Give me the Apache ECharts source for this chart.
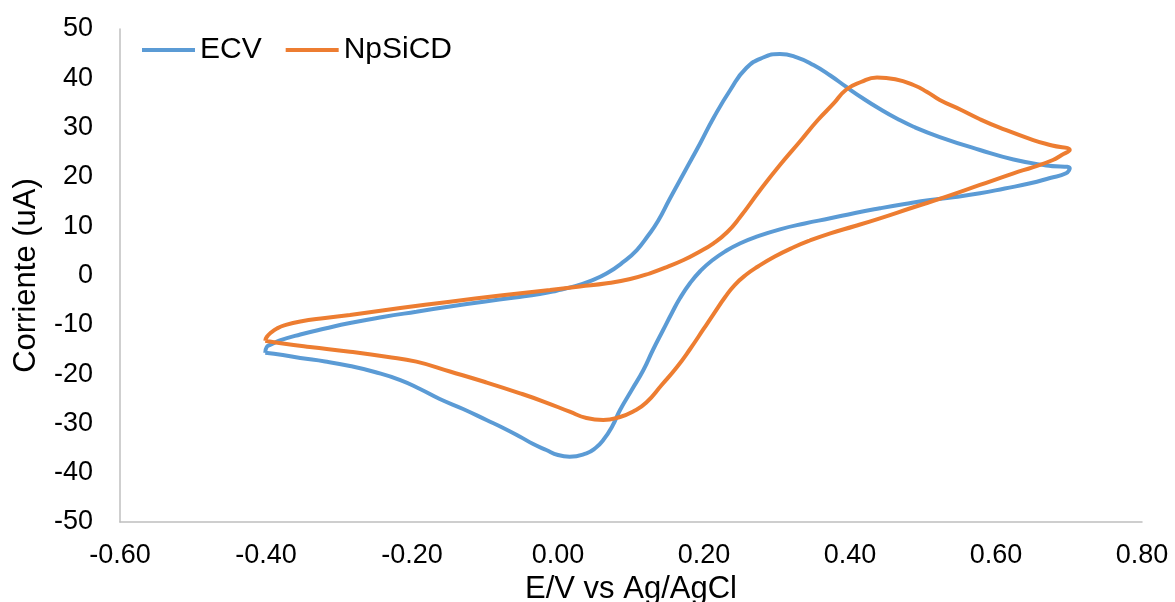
<!DOCTYPE html>
<html>
<head>
<meta charset="utf-8">
<script src="https://cdn.jsdelivr.net/npm/echarts@6/dist/echarts.min.js"></script>
<style>
html,body{margin:0;padding:0;background:#fff;}
#chart{width:1175px;height:602px;}
</style>
</head>
<body>
<div id="chart"></div>
<script>
// Axis ticks
const xTicks = [-0.6, -0.4, -0.2, 0.0, 0.2, 0.4, 0.6, 0.8];
const yTicks = [-50, -40, -30, -20, -10, 0, 10, 20, 30, 40, 50];
const seriesNames = ['ECV', 'NpSiCD'];

// ECV: anodic sweep (-0.4 -> 0.7) then cathodic sweep (0.7 -> -0.4)
const ecvPotential = [
  -0.401, -0.399, -0.393, -0.381, -0.353, -0.319, -0.285, -0.240, -0.194, -0.148,
  -0.102, -0.059, -0.025, -0.002, 0.021, 0.044, 0.067, 0.090, 0.108, 0.123,
  0.137, 0.153, 0.174, 0.195, 0.213, 0.236, 0.258, 0.281, 0.304, 0.327,
  0.350, 0.373, 0.395, 0.418, 0.441, 0.464, 0.487, 0.523, 0.578, 0.624,
  0.669, 0.701,
  0.696, 0.674, 0.647, 0.612, 0.578, 0.544, 0.510, 0.475, 0.441, 0.407,
  0.373, 0.338, 0.304, 0.272, 0.249, 0.231, 0.211, 0.195, 0.181, 0.167,
  0.156, 0.144, 0.130, 0.117, 0.101, 0.085, 0.074, 0.062, 0.051, 0.039,
  0.016, 0.000, -0.016, -0.034, -0.052, -0.075, -0.098, -0.130, -0.162, -0.189,
  -0.216, -0.251, -0.285, -0.319, -0.353, -0.377, -0.401
];
const ecvCurrent = [
  -15.66, -14.50, -14.0, -13.18, -11.97, -10.75, -9.63, -8.42, -7.34, -6.29,
  -5.31, -4.46, -3.75, -3.08, -2.27, -1.12, 0.45, 2.80, 5.17, 8.01,
  11.05, 15.52, 21.20, 26.88, 31.95, 37.63, 42.09, 44.22, 44.93, 44.26,
  42.70, 40.57, 38.24, 35.90, 33.77, 31.85, 30.18, 28.09, 25.46, 23.53,
  22.31, 21.74,
  20.73, 19.78, 18.70, 17.65, 16.67, 15.92, 15.31, 14.50, 13.63, 12.68,
  11.60, 10.55, 9.37, 7.87, 6.49, 5.07, 3.04, 0.91, -1.52, -4.62,
  -7.6, -11.05, -15.11, -19.17, -23.23, -27.28, -30.67, -33.37, -35.05, -36.06,
  -36.75, -36.41, -35.40, -34.18, -32.70, -30.93, -29.31, -27.08, -25.05, -23.02,
  -21.20, -19.57, -18.36, -17.44, -16.73, -16.13, -15.66
];

// NpSiCD: anodic sweep then cathodic sweep
const npPotential = [
  -0.401, -0.399, -0.393, -0.385, -0.374, -0.353, -0.319, -0.285, -0.216, -0.148,
  -0.079, -0.011, 0.030, 0.067, 0.099, 0.126, 0.149, 0.172, 0.192, 0.213,
  0.232, 0.249, 0.277, 0.304, 0.332, 0.356, 0.377, 0.395, 0.415, 0.437,
  0.462, 0.487, 0.505, 0.523, 0.551, 0.578, 0.605, 0.651, 0.677, 0.701,
  0.690, 0.678, 0.651, 0.624, 0.578, 0.532, 0.486, 0.441, 0.407, 0.373,
  0.345, 0.322, 0.297, 0.274, 0.258, 0.242, 0.229, 0.214, 0.199, 0.181,
  0.163, 0.142, 0.121, 0.103, 0.085, 0.062, 0.039, 0.016, -0.018, -0.052,
  -0.100, -0.148, -0.194, -0.235, -0.285, -0.340, -0.377, -0.401
];
const npCurrent = [
  -13.23, -12.47, -11.56, -10.75, -10.08, -9.33, -8.62, -8.01, -6.59, -5.31,
  -4.06, -2.94, -2.23, -1.58, -0.71, 0.45, 1.72, 3.14, 4.67, 6.53,
  8.82, 11.76, 17.34, 22.41, 27.28, 31.54, 34.79, 37.73, 39.25, 40.16,
  39.80, 38.64, 37.28, 35.60, 33.67, 31.7, 30.0, 27.48, 26.37, 25.46,
  24.44, 23.43, 22.0, 20.73, 18.36, 15.98, 13.79, 11.60, 10.04, 8.56,
  7.10, 5.68, 3.85, 1.83, 0.20, -1.93, -4.36, -7.61, -10.95, -14.91,
  -18.56, -22.21, -25.76, -27.59, -28.70, -29.31, -28.90, -27.63, -25.66, -23.89,
  -21.60, -19.47, -17.48, -16.47, -15.46, -14.50, -13.79, -13.23
];

const zip = (xs, ys) => xs.map((x, i) => [x, ys[i]]);
const FONT = '"Liberation Sans", Arial, sans-serif';

const chart = echarts.init(document.getElementById('chart'), null, {renderer: 'canvas'});
chart.setOption({
  animation: false,
  backgroundColor: '#ffffff',
  color: ['#5B9BD5', '#ED7D31'],
  textStyle: {fontFamily: FONT, color: '#000'},
  legend: {
    left: 137, top: 30,
    icon: 'rect',
    itemWidth: 53, itemHeight: 4, itemGap: 24,
    textStyle: {fontFamily: FONT, fontSize: 30, color: '#000'},
    data: seriesNames
  },
  grid: {left: 120, right: 33, top: 29, bottom: 80, containLabel: false, outerBoundsMode: 'none'},
  xAxis: {
    type: 'value',
    min: xTicks[0], max: xTicks[xTicks.length - 1], interval: 0.2,
    name: 'E/V vs Ag/AgCl',
    nameLocation: 'middle', nameGap: 47,
    nameTextStyle: {fontFamily: FONT, fontSize: 31, color: '#000'},
    axisLine: {onZero: false, lineStyle: {color: '#bfbfbf', width: 1.5}},
    axisTick: {show: false},
    splitLine: {show: false},
    axisLabel: {fontFamily: FONT, fontSize: 27, color: '#000', margin: 20,
      formatter: v => v.toFixed(2)}
  },
  yAxis: {
    type: 'value',
    min: yTicks[0], max: yTicks[yTicks.length - 1], interval: 10,
    name: 'Corriente (uA)',
    nameLocation: 'middle', nameGap: 78,
    nameTextStyle: {fontFamily: FONT, fontSize: 31, color: '#000'},
    axisLine: {show: true, onZero: false, lineStyle: {color: '#bfbfbf', width: 1.5}},
    axisTick: {show: false},
    splitLine: {show: false},
    axisLabel: {fontFamily: FONT, fontSize: 27, color: '#000', margin: 27}
  },
  series: [
    {
      name: seriesNames[0], type: 'line', data: zip(ecvPotential, ecvCurrent),
      showSymbol: false, symbol: 'none', smooth: 0.5,
      lineStyle: {width: 4, color: '#5B9BD5'}, itemStyle: {color: '#5B9BD5'}
    },
    {
      name: seriesNames[1], type: 'line', data: zip(npPotential, npCurrent),
      showSymbol: false, symbol: 'none', smooth: 0.5,
      lineStyle: {width: 4, color: '#ED7D31'}, itemStyle: {color: '#ED7D31'}
    }
  ]
});
</script>
</body>
</html>
